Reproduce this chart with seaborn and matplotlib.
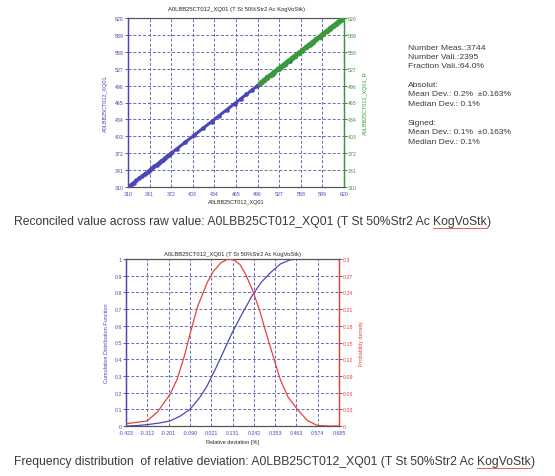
import numpy as np
import pandas as pd
import matplotlib
matplotlib.use("Agg")
import matplotlib.pyplot as plt
import seaborn as sns

# ---------------- data ----------------
tag = "A0LBB25CT012_XQ01"
title_top = "A0LBB25CT012_XQ01 (T St 50%Str2 Ac KogVoStk)"
top_ticks = [310, 341, 372, 403, 434, 465, 496, 527, 558, 589, 620]

# raw vs reconciled values (blue: lower range, green: upper range)
blue_raw = [311, 314, 318, 322, 326, 330, 334, 338, 342, 345, 348, 351, 354, 357,
            360, 363, 366, 369, 372, 380, 392, 405, 418, 430, 441, 452, 463, 472,
            480, 488, 495, 503, 510, 518, 526, 534, 542, 550, 560, 572, 585, 600, 612]
blue_rec = [311, 314, 318, 322, 326, 330, 334, 338, 342, 345, 348, 351, 354, 357,
            360, 363, 366, 369, 372, 380, 392, 405, 418, 430, 441, 452, 463, 472,
            480, 488, 495, 503, 510, 518, 526, 534, 542, 550, 560, 572, 585, 600, 612]
green_raw = [500, 505, 510, 515, 520, 525, 530, 535, 540, 545, 550, 555, 560, 565,
             570, 575, 580, 585, 590, 595, 600, 604, 608, 612, 616, 619]
green_rec = [501, 506, 511, 516, 521, 526, 531, 536, 541, 546, 551, 556, 561, 566,
             571, 576, 581, 586, 591, 596, 601, 605, 609, 613, 617, 620]
ref_line = [310, 620]

stats_lines = ["Number Meas.:3744", "Number Vali.:2395", "Fraction Vali.:64.0%", "",
               "Absolut:", "Mean Dev.: 0.2%  \u00b10.163%", "Median Dev.: 0.1%", "",
               "Signed:", "Mean Dev.: 0.1%  \u00b10.163%", "Median Dev.: 0.1%"]

caption1 = "Reconciled value across raw value: A0LBB25CT012_XQ01 (T St 50%Str2 Ac "
caption2 = "Frequency distribution  of relative deviation: A0LBB25CT012_XQ01 (T St 50%Str2 Ac "
cap_word = "KogVoStk"

# frequency distribution
dev_ticks = [-0.423, -0.312, -0.201, -0.090, 0.021, 0.131, 0.242, 0.353, 0.463, 0.574, 0.685]
dev_tick_labels = ["-0.423", "-0.312", "-0.201", "-0.090", "0.021", "0.131", "0.242",
                   "0.353", "0.463", "0.574", "0.685"]
cdf_ticks = [0, 0.1, 0.2, 0.3, 0.4, 0.5, 0.6, 0.7, 0.8, 0.9, 1]
cdf_tick_labels = ["0", "0.1", "0.2", "0.3", "0.4", "0.5", "0.6", "0.7", "0.8", "0.9", "1"]
pdf_ticks = [0, 0.03, 0.06, 0.09, 0.12, 0.15, 0.18, 0.21, 0.24, 0.27, 0.3]
pdf_tick_labels = ["0", "0.03", "0.06", "0.09", "0.12", "0.15", "0.18", "0.21", "0.24", "0.27", "0.3"]

pdf_x = [-0.423, -0.38, -0.314, -0.26, -0.194, -0.157, -0.12, -0.09, -0.05, 0.0, 0.03,
         0.07, 0.108, 0.14, 0.17, 0.20, 0.233, 0.27, 0.30, 0.34, 0.379, 0.42, 0.468,
         0.52, 0.572, 0.63, 0.685]
pdf_y = [0.004, 0.006, 0.009, 0.025, 0.057, 0.084, 0.125, 0.165, 0.215, 0.258, 0.277,
         0.293, 0.300, 0.298, 0.290, 0.272, 0.246, 0.210, 0.174, 0.128, 0.084, 0.052, 0.030,
         0.010, 0.001, 0.0, 0.0]
cdf_x = [-0.423, -0.36, -0.30, -0.25, -0.194, -0.14, -0.09, -0.04, -0.001, 0.05, 0.09,
         0.13, 0.18, 0.233, 0.28, 0.33, 0.38, 0.43, 0.48, 0.55, 0.62, 0.685]
cdf_y = [0.0, 0.003, 0.01, 0.018, 0.03, 0.06, 0.10, 0.17, 0.24, 0.36, 0.46,
         0.56, 0.67, 0.78, 0.86, 0.92, 0.97, 0.995, 1.0, 1.0, 1.0, 1.0]

# ---------------- style ----------------
sns.set_style("white")
plt.rcParams["font.family"] = ["Liberation Sans", "DejaVu Sans"]

BLUE = "#4a47b8"
GREEN = "#3a9a3a"
RED = "#e8413c"
PINK = "#f08080"
GRIDC = "#6a6ab8"
TICKFS = 3.8
TXT = "#3a3a3a"

fig = plt.figure(figsize=(5.55, 4.77), dpi=100)
fig.patch.set_facecolor("white")

# ---------------- top chart ----------------
ax1 = fig.add_axes([128 / 555, 1 - 188 / 477, 216 / 555, 169 / 477])
ax1r = ax1.twinx()

sns.lineplot(x=ref_line, y=ref_line, ax=ax1, color=PINK, lw=1.0, linestyle="--", zorder=2)
sns.scatterplot(x=blue_raw, y=blue_rec, ax=ax1, color=BLUE, s=9, edgecolor=BLUE,
                linewidth=0.3, zorder=3)
sns.lineplot(x=blue_raw, y=blue_rec, ax=ax1, color=BLUE, lw=2.2, zorder=3)
sns.scatterplot(x=green_raw, y=green_rec, ax=ax1r, color=GREEN, s=14, edgecolor=GREEN,
                linewidth=0.3, zorder=4)
sns.lineplot(x=green_raw, y=green_rec, ax=ax1r, color=GREEN, lw=3.0, zorder=4)

for a in (ax1, ax1r):
    a.set_xlim(310, 620)
    a.set_ylim(310, 620)
ax1.set_xticks(top_ticks)
ax1.set_yticks(top_ticks)
ax1r.set_yticks(top_ticks)
ax1.set_xticklabels([str(t) for t in top_ticks], fontsize=TICKFS, color=BLUE)
ax1.set_yticklabels([str(t) for t in top_ticks], fontsize=TICKFS, color=BLUE)
ax1r.set_yticklabels([str(t) for t in top_ticks], fontsize=TICKFS, color=GREEN)
ax1.grid(True, color=GRIDC, linestyle=(0, (3, 2)), lw=0.7)
ax1.set_title(title_top, fontsize=4.2, pad=6)
ax1.set_xlabel(tag, fontsize=4.0, labelpad=2)
ax1.set_ylabel(tag, fontsize=4.0, color=BLUE, labelpad=5)
ax1r.set_ylabel(tag + "_R", fontsize=4.0, color=GREEN, labelpad=4)
ax1.tick_params(length=2, width=0.5, pad=1)
ax1r.tick_params(length=2, width=0.5, pad=1)
for s in ax1.spines.values():
    s.set_color("#555555"); s.set_linewidth(0.8)
ax1r.spines["left"].set_color(BLUE)
ax1r.spines["right"].set_color(GREEN)
ax1r.spines["left"].set_linewidth(1.0)
ax1r.spines["right"].set_linewidth(1.0)
ax1r.spines["top"].set_color("#555555")
ax1r.spines["bottom"].set_color("#555555")

# stats text
y0 = 48
for i, line in enumerate(stats_lines):
    fig.text(408 / 555, 1 - (y0 + i * 9.4) / 477, line, fontsize=6.1, color=TXT,
             ha="left", va="center")

# ---------------- bottom chart ----------------
ax2 = fig.add_axes([126 / 555, 1 - 427 / 477, 213 / 555, 167 / 477])
ax2r = ax2.twinx()
sns.lineplot(x=cdf_x, y=cdf_y, ax=ax2, color=BLUE, lw=0.9, zorder=3)
sns.lineplot(x=pdf_x, y=pdf_y, ax=ax2r, color=RED, lw=0.9, zorder=3)
ax2.set_xlim(-0.423, 0.685)
ax2.set_ylim(0, 1)
ax2r.set_ylim(0, 0.3)
ax2.set_xticks(dev_ticks)
ax2.set_xticklabels(dev_tick_labels, fontsize=TICKFS, color=BLUE)
ax2.set_yticks(cdf_ticks)
ax2.set_yticklabels(cdf_tick_labels, fontsize=TICKFS, color=BLUE)
ax2r.set_yticks(pdf_ticks)
ax2r.set_yticklabels(pdf_tick_labels, fontsize=TICKFS, color=RED)
ax2.grid(True, color=GRIDC, linestyle=(0, (3, 2)), lw=0.7)
ax2.set_title(title_top, fontsize=4.2, pad=3)
ax2.set_xlabel("Relative deviation [%]", fontsize=4.0, labelpad=3)
ax2.set_ylabel("Cumulative Distribution Function", fontsize=4.0, color=BLUE, labelpad=4)
ax2r.set_ylabel("Probability density", fontsize=4.0, color=RED, labelpad=4)
ax2.tick_params(length=2, width=0.5, pad=1)
ax2r.tick_params(length=2, width=0.5, pad=1)
ax2r.spines["left"].set_color(BLUE)
ax2r.spines["right"].set_color(RED)
ax2r.spines["left"].set_linewidth(1.0)
ax2r.spines["right"].set_linewidth(1.0)
ax2r.spines["top"].set_color("#555555")
ax2r.spines["bottom"].set_color("#555555")

# ---------------- captions ----------------
CAPFS = 8.7

def caption(prefix, ypix):
    t = fig.text(14 / 555, 1 - ypix / 477, prefix, fontsize=CAPFS, color=TXT,
                 ha="left", va="center")
    fig.canvas.draw()
    bb = t.get_window_extent()
    x1 = bb.x1 / fig.bbox.width
    w = fig.text(x1, 1 - ypix / 477, cap_word, fontsize=CAPFS, color=TXT,
                 ha="left", va="center")
    fig.canvas.draw()
    wb = w.get_window_extent()
    fig.text(wb.x1 / fig.bbox.width, 1 - ypix / 477, ")", fontsize=CAPFS, color=TXT,
             ha="left", va="center")
    yl = (wb.y0 - 0.5) / fig.bbox.height
    fig.add_artist(plt.Line2D([wb.x0 / fig.bbox.width, wb.x1 / fig.bbox.width], [yl, yl],
                              color=RED, lw=0.6, transform=fig.transFigure))

caption(caption1, 222)
caption(caption2, 462)

fig.savefig("out.png", dpi=100)
